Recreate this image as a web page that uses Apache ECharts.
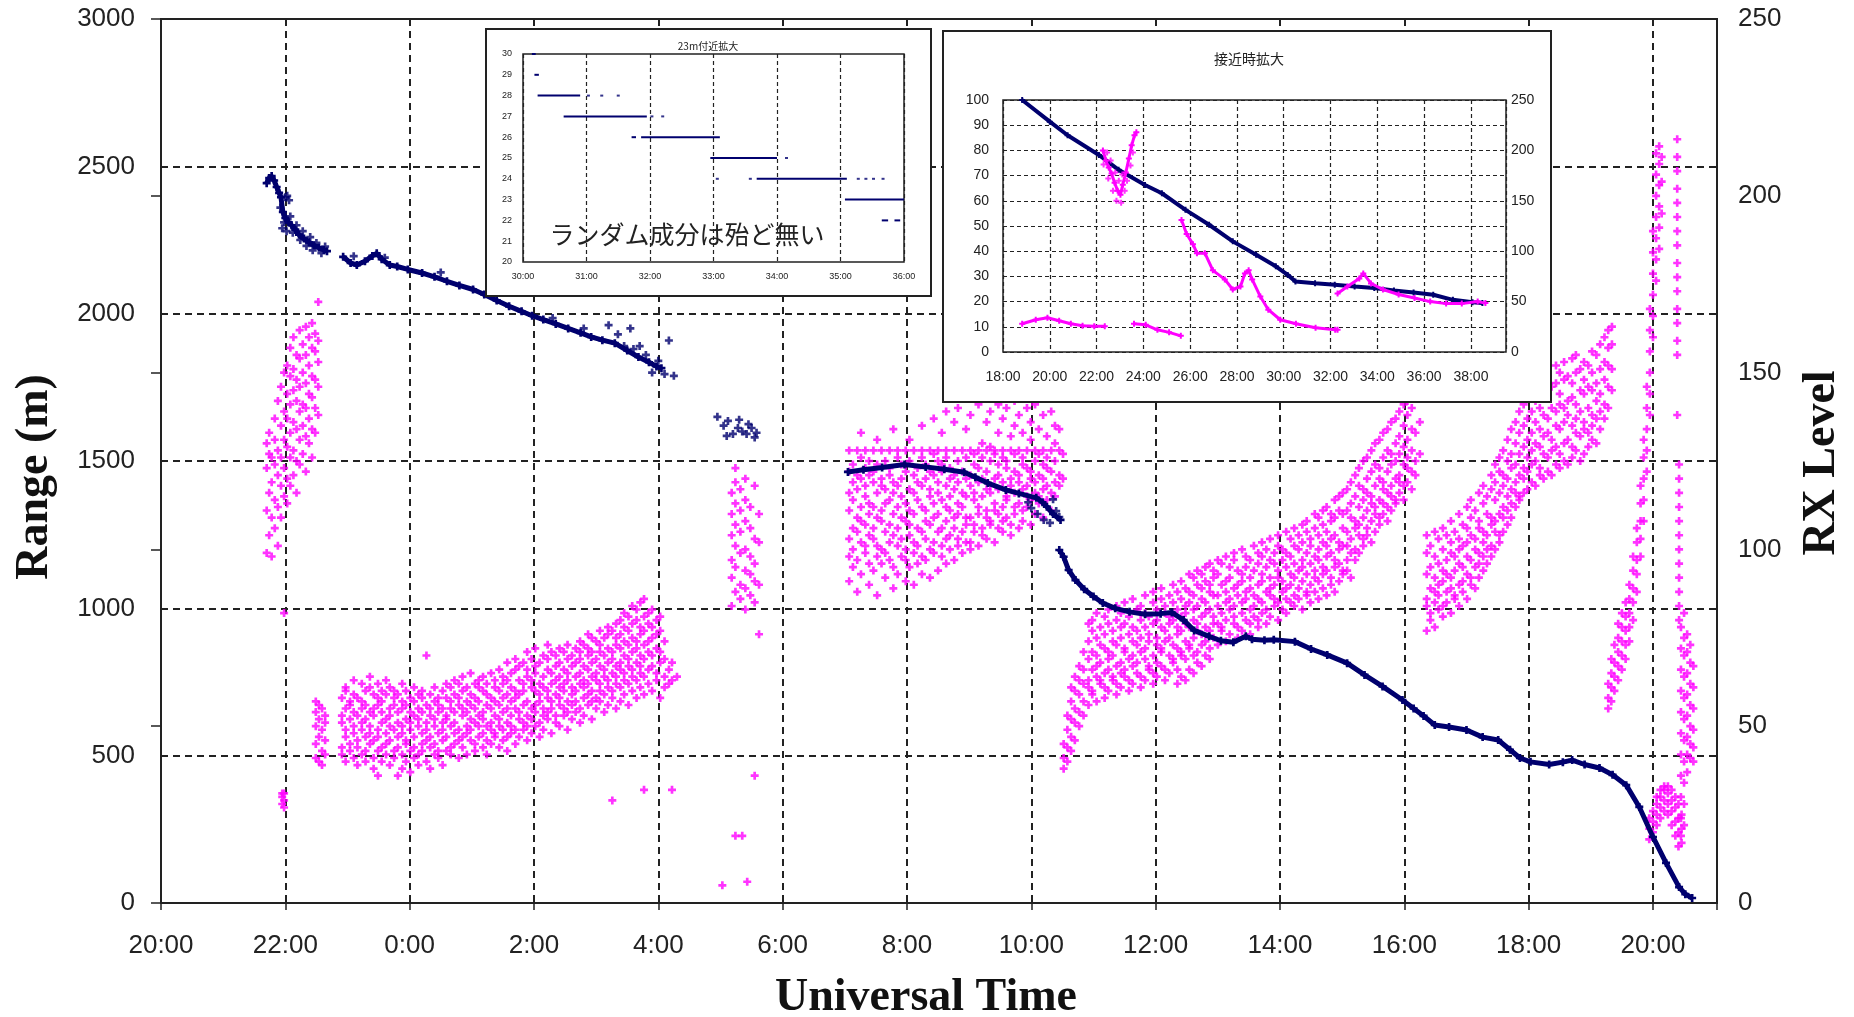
<!DOCTYPE html>
<html>
<head>
<meta charset="utf-8">
<script src="https://cdn.jsdelivr.net/npm/echarts@6/dist/echarts.min.js"></script>
<style>
  html, body { margin: 0; padding: 0; background: #fff; }
  #main { width: 1854px; height: 1017px; }
</style>
</head>
<body>
<div id="main"></div>
<script>
// hours counted from 20:00 UT on the first day
// ---- range (m), dark blue ----
const rangeSeg1 = [[1.70,2443],[1.74,2460],[1.78,2467],[1.82,2452],[1.86,2430],[1.90,2410],[1.93,2395],[1.96,2345],[2.00,2325],[2.05,2310],[2.10,2300],[2.16,2285],[2.22,2268],[2.30,2255],[2.38,2242],[2.46,2232],[2.54,2224],[2.62,2216],[2.67,2212]];
const rangeSeg2 = [[2.93,2193],[3.05,2172],[3.15,2165],[3.28,2178],[3.40,2196],[3.47,2205],[3.55,2185],[3.68,2165],[3.80,2160],[3.97,2150],[4.20,2138],[4.40,2125],[4.60,2110],[4.80,2096],[5.02,2082],[5.20,2065],[5.40,2045],[5.60,2025],[5.80,2008],[5.97,1993],[6.15,1980],[6.35,1965],[6.55,1950],[6.75,1935],[6.92,1921],[7.10,1910],[7.30,1900],[7.50,1875],[7.68,1853],[7.85,1835],[7.97,1821],[8.05,1815]];
const rangeSeg4 = [[11.05,1463],[11.30,1470],[11.60,1478],[11.96,1488],[12.30,1480],[12.60,1472],[12.92,1462],[13.10,1445],[13.30,1425],[13.59,1402],[13.80,1390],[14.08,1375],[14.18,1360],[14.25,1345],[14.35,1320],[14.47,1300]];
const rangeSeg5 = [[14.45,1198],[14.52,1175],[14.60,1130],[14.71,1096],[14.85,1065],[15.00,1040],[15.15,1018],[15.35,1000],[15.58,988],[15.83,980],[16.08,982],[16.26,986],[16.45,960],[16.62,925],[16.86,905],[17.05,890],[17.25,885],[17.45,905],[17.55,895],[17.75,892],[17.90,893],[18.24,887],[18.50,862],[18.76,842],[19.08,814],[19.36,774],[19.65,735],[19.97,689],[20.15,660],[20.31,635],[20.49,604],[20.72,597],[21.00,587],[21.26,563],[21.51,553],[21.70,520],[21.86,492],[22.03,479],[22.33,470],[22.55,478],[22.70,485],[22.90,470],[23.14,458],[23.35,435],[23.57,400],[23.78,326],[24.00,224],[24.21,136],[24.42,54],[24.52,30],[24.63,17]];
const rangeLoose = [[1.92,2360],[1.95,2290],[1.98,2310],[2.00,2395],[2.03,2400],[2.06,2385],[2.02,2280],[2.08,2330],[2.12,2275],[2.18,2300],[2.24,2250],[2.28,2280],[2.34,2230],[2.40,2260],[2.44,2215],[2.50,2240],[2.58,2205],[2.64,2228],
  [3.10,2195],[3.60,2190],[4.50,2140],[5.30,2070],[6.30,1985],[6.80,1950],[7.20,1961],[7.35,1930],[7.45,1890],[7.55,1950],[7.60,1880],[7.70,1890],[7.80,1860],[7.90,1800],[8.00,1840],[8.10,1795],[8.17,1909],[8.25,1789],
  [8.95,1650],[9.05,1620],[9.10,1585],[9.12,1636],[9.20,1592],[9.28,1612],[9.30,1640],[9.35,1600],[9.42,1592],[9.45,1625],[9.50,1612],[9.55,1580],[9.58,1596],
  [13.95,1360],[14.00,1340],[14.10,1320],[14.20,1300],[14.30,1290],[14.35,1370],[14.40,1330],[14.45,1310]];

// ---- RX level, magenta: [hour, level, level, ...] ----
const rxNear22 = [[1.70,99,111,123,130],[1.74,104,116,127,133],[1.78,98,109,119,126],[1.83,106,114,124,131,137],[1.88,101,112,121,128,142],[1.93,109,118,126,135,146],[1.98,82,115,123,131,139,150],[2.03,113,120,129,137,144,152],[2.08,118,126,133,141,149,157],[2.13,121,128,136,145,151,160],[2.18,116,125,134,142,148,155],[2.23,124,131,139,146,154,162],[2.28,127,135,141,150,158],[2.33,122,132,140,147,155,163],[2.38,130,137,144,152,160],[2.43,126,134,143,149,157,164],[2.48,133,140,148,156,161],[2.53,138,146,153,159,170]];
const rxBlob = [[1.95,28,30,31],[1.98,27,29,31]];
const rxNear23 = [[2.49,41,45,50,54,57],[2.54,40,47,52,56],[2.59,39,43,49,55],[2.64,42,46,51,53]];
const rxNight = [[2.91,42,44,51,53,58],[2.97,40,47,49,55,60,61],[3.04,43,45,52,56,57],[3.10,41,48,50,54,59,63],[3.16,39,44,46,53,58],[3.23,42,49,51,55,57,62],[3.29,40,43,47,52,56,60],[3.36,45,48,50,54,61,64],[3.42,38,41,46,53,55,59],[3.49,36,43,47,49,56,58,62],[3.55,40,44,51,54,57,60],[3.62,42,45,48,52,59,63],[3.68,39,46,50,53,55,61],[3.75,41,43,49,56,58,60],[3.81,36,44,47,51,54,59],[3.88,38,42,48,50,55,57,62],[3.94,40,45,46,52,56,60],[4.01,37,43,49,51,54,58],[4.07,41,44,47,53,57,61],[4.14,39,42,50,52,55,59],[4.20,43,45,48,54,58,60],[4.27,40,46,49,51,56,70],[4.33,38,44,47,53,55,59],[4.40,42,45,50,52,57,61],[4.46,41,43,48,54,56,58],[4.53,39,46,49,51,55,60],[4.59,43,47,52,53,58,62],[4.66,42,44,50,55,57,61],[4.72,45,48,51,54,59,63],[4.79,41,46,49,56,58,62],[4.85,44,47,53,55,60,64],[4.92,42,48,50,54,57,61],[4.98,46,49,52,56,59,65],[5.05,43,45,51,55,58,62],[5.11,47,50,53,57,61,63],[5.18,44,48,52,54,60,64],[5.24,42,46,50,56,59,62],[5.31,45,49,51,55,58,65],[5.37,47,48,53,57,61,63],[5.44,44,50,52,56,60,66],[5.50,46,49,54,58,62,64],[5.57,43,47,51,55,59,63,68],[5.63,48,50,53,57,61,65],[5.70,45,49,55,58,60,66,69],[5.76,47,52,54,59,63,67],[5.83,49,51,56,60,62,68],[5.89,46,50,53,57,64,66,71],[5.96,48,52,55,61,63,69],[6.02,50,54,56,60,65,67,72],[6.09,47,51,57,59,62,68],[6.15,49,53,55,61,64,70],[6.22,52,54,58,60,66,69,73],[6.28,48,55,57,62,65,71],[6.35,51,53,59,63,67,70],[6.41,50,56,58,61,64,68,72],[6.48,53,55,60,62,66,71],[6.54,49,54,57,63,65,69,73],[6.61,52,56,59,61,67,70],[6.67,54,57,60,64,68,72],[6.74,51,55,62,65,69,71,74],[6.80,53,58,61,63,67,73],[6.87,56,59,62,66,70,72,76],[6.93,52,57,60,64,68,71,75],[7.00,55,58,63,65,69,74],[7.06,57,60,62,67,71,73,77],[7.13,54,59,64,66,70,75],[7.19,56,61,63,68,72,76,78],[7.26,29,58,60,65,69,71,77],[7.32,55,62,64,67,73,75,79],[7.39,57,61,66,68,72,76,80],[7.45,59,63,65,70,74,78,82],[7.52,56,62,67,69,73,77,81],[7.58,60,64,66,71,75,79,84],[7.65,58,63,68,72,74,80,83],[7.71,61,65,67,70,76,78,85],[7.77,32,59,64,69,73,77,81,86],[7.84,62,66,71,74,79,82],[7.90,60,67,70,75,78,83],[7.97,63,65,72,76,80],[8.03,58,68,71,77,81],[8.10,61,64,69,74],[8.17,62,66],[8.22,32,63,68],[8.30,64]];
const rxNear05 = [[9.03,5],[9.18,84,92,97,104,110,116],[9.24,19,88,95,101,107,113,119,123],[9.32,86,90,99,105,111,117],[9.35,19],[9.40,83,89,94,100,108,114,120],[9.43,6],[9.48,87,93,98,106,112],[9.55,36,85,91,96,103,118],[9.62,76,90,102,110]];
const rxMorning = [[11.07,91,98,103,111,116,122,128],[11.13,95,100,106,114,119,124],[11.20,88,97,105,109,117,121,128],[11.26,93,102,108,112,120,126,133],[11.33,99,101,107,115,118,123,128],[11.39,90,96,104,110,113,121,125],[11.46,94,103,106,112,119,122,128],[11.52,87,98,101,109,116,124,131],[11.59,96,100,108,111,118,120,128],[11.65,92,99,105,113,117,125],[11.72,97,102,107,114,121,123,128],[11.78,89,95,104,110,116,119,134],[11.85,93,101,106,112,118,126,128],[11.91,98,103,109,115,120,124],[11.98,91,97,100,108,113,122,128],[12.04,95,104,107,111,117,125,131],[12.11,90,99,102,110,116,121,128],[12.17,96,101,106,114,119,123],[12.24,93,98,105,112,118,126,128,135],[12.30,97,103,108,111,120,124],[12.37,92,100,107,115,117,122,128],[12.43,99,102,109,113,121,127,137],[12.50,94,105,110,116,119,125,128],[12.56,98,101,106,114,122,124,133],[12.63,96,103,108,112,118,126,128,139],[12.69,100,104,111,115,120,123],[12.76,97,106,109,117,121,128,136],[12.82,101,103,110,113,119,125,140],[12.89,99,105,112,116,122,128],[12.95,102,107,109,115,120,126,134],
  [13.02,100,102,109,118,121,128,138],[13.08,105,107,114,116,124,127],[13.15,101,110,112,119,123,128,141],[13.21,104,106,115,120,126,130],[13.28,103,109,111,117,122,128,136],[13.34,107,108,116,118,125,129,139],[13.41,102,111,113,120,127,128],[13.47,106,110,117,121,124,133,141],[13.54,105,108,112,119,126,128,137],[13.60,109,114,115,123,125,140],[13.67,104,107,118,120,128,132],[13.73,110,112,116,122,127,135,142],[13.80,106,113,119,121,128,138],[13.86,108,111,117,124,126,133],[13.93,112,115,118,123,128,140],[13.99,107,114,120,122,131,136],[14.06,110,116,119,125,128,141],[14.12,113,115,121,127,134],[14.19,109,117,120,124,128,138],[14.25,114,118,123,126,132],[14.32,111,116,122,128,139],[14.38,115,119,125,130,135],[14.45,118,121,128,134],[14.51,120,127]];
const rxAfternoon = [[14.52,38,41,45],[14.58,40,44,49,53],[14.64,43,47,52,57,61],[14.70,46,51,55,60,64],[14.77,50,54,59,63,67],[14.84,53,57,62,66,71],
  [14.92,56,61,63,69,74,79],[14.98,59,60,66,71,77,80],[15.05,57,64,67,70,75,82],[15.11,62,63,68,73,78],[15.18,58,61,65,72,76,81],[15.24,60,66,69,71,79,83],[15.31,63,64,70,74,77],[15.37,59,62,67,73,80,84],[15.44,61,65,68,75,78,82],[15.50,64,66,71,72,79,85],[15.57,60,63,69,76,81],[15.63,62,67,70,74,78,86],[15.70,65,68,73,77,83],[15.76,61,64,71,75,80,84],[15.83,63,69,72,78,82,87],[15.89,66,67,74,76,81],[15.96,62,65,70,79,85,88],[16.02,64,68,73,75,80,83],[16.09,67,71,72,78,86,89],[16.15,63,66,74,77,82,84],[16.22,65,70,75,79,81,87],[16.28,68,69,73,80,85,90],[16.35,62,66,72,76,78,83,88],[16.41,64,70,71,77,81,86,91],[16.48,63,69,74,79,82,84,89],[16.54,66,72,73,78,85,88,93],[16.61,65,70,75,80,83,87,92],[16.67,68,71,77,79,84,90,94],[16.74,67,73,76,81,86,89,93],[16.80,70,74,78,82,85,91,95],[16.87,69,72,77,83,88,90,96],[16.93,75,79,81,87,92,94],
  [17.00,73,79,84,87,93,97],[17.06,77,78,82,90,96],[17.13,74,80,85,88,91,98],[17.19,76,83,86,92,95],[17.26,79,81,84,89,97,99],[17.32,75,78,87,90,94],[17.39,77,82,85,91,93,100],[17.45,80,86,88,95,98],[17.52,76,79,83,89,92,97],[17.58,81,84,87,94,101],[17.65,78,80,86,90,96,99],[17.71,82,85,91,93,98,102],[17.78,79,83,88,95,100],[17.84,81,87,89,92,97,103],[17.91,84,86,90,96,99],[17.97,80,85,92,94,101,104],[18.04,83,88,91,97,100],[18.10,82,86,89,95,99,105],[18.17,85,90,93,98,103],[18.23,84,87,92,96,101,106],[18.30,86,89,94,100,104],[18.36,83,91,95,97,102,107],[18.43,87,88,93,99,105,108],[18.49,85,90,96,101,103],[18.56,88,92,94,98,106,110],[18.62,86,91,97,100,104,109],[18.69,89,93,95,102,107,111],[18.75,87,94,98,101,105,112],[18.82,90,92,99,103,108,110],[18.88,88,95,97,104,109,114],[18.95,91,96,100,102,111,115],[19.01,93,94,101,106,110,116],
  [19.08,94,97,101,105,111,117],[19.14,92,99,103,109,113,119],[19.21,97,100,106,108,115,121],[19.27,99,104,107,112,118,123],[19.34,101,103,109,114,117,125],[19.40,104,106,111,116,120,126],[19.47,102,108,113,115,122,128],[19.53,105,110,112,118,124,130],[19.60,107,109,114,120,123,131],[19.66,110,113,117,119,126,133],[19.73,108,112,116,122,128,134],[19.79,111,115,118,124,127,136],[19.86,113,114,120,125,130,137],[19.92,116,119,121,127,132,139],[19.99,114,118,124,129,135,141],[20.05,119,123,126,131,138,142],[20.12,117,122,128,134,140],[20.18,121,125,133,143],[20.25,127,136]];
const rxEvening = [[20.36,77,84,86,93,99,104],[20.42,80,82,89,95,101],[20.49,78,85,88,92,98,105],[20.55,83,87,90,96,103],[20.62,81,84,91,94,100,106],[20.68,85,88,93,97,104],[20.75,82,89,92,99,102,108],[20.81,86,87,94,98,105],[20.88,84,90,96,100,103,110],[20.94,88,91,95,101,107],[21.01,86,93,98,102,106,112],[21.07,90,92,97,104,109,114],[21.14,89,95,100,103,111],[21.20,92,96,99,106,108,116],[21.27,94,98,102,105,113,118],[21.33,96,100,104,110,115],[21.40,98,101,107,109,117,121],[21.46,100,105,108,114,119,124],[21.53,102,104,110,116,122,126],[21.59,105,109,112,118,121,128],[21.66,107,111,115,120,125,131],[21.72,109,113,117,123,127,134],[21.79,112,116,119,124,130,136],[21.85,114,115,121,127,133,139],[21.92,116,120,123,129,135,141],[21.98,117,122,126,131,137,144],[22.05,119,124,128,133,139,146],[22.11,118,125,130,136,142,148],[22.18,121,123,129,134,140,149],[22.24,120,127,132,138,145,150],[22.31,122,126,133,137,143,151],[22.37,121,128,131,140,146],[22.44,124,129,135,139,147,152],[22.50,123,127,134,141,144,150],[22.57,125,130,136,140,148,153],[22.63,124,131,138,142,149],[22.70,126,129,135,143,147,154],[22.76,128,133,137,141,150,155],[22.83,125,132,139,145,151],[22.89,127,134,136,144,148,153],[22.96,129,133,140,146,152],[23.02,131,135,138,145,150,156],[23.09,130,137,142,147,155],[23.15,134,139,144,151,158],[23.22,137,141,148,153,160],[23.28,140,146,152,157,162],[23.34,145,151,158,163]];
const rxApproach = [[23.28,55,58,62],[23.33,57,61,65,69],[23.38,60,64,68,73],[23.44,63,67,71,75,79],[23.50,66,70,74,78,82],[23.56,69,73,77,81,85],[23.62,74,78,82,86,90],[23.68,80,85,89,94,98],[23.74,88,93,97,102,106],[23.80,98,103,108,113,118],[23.85,108,114,120,126,131],[23.90,122,128,134,140,146],[23.95,138,144,150,156,162,168],[24.00,160,166,172,178,184,190],[24.05,176,182,188,194,200,206,212],[24.10,185,191,197,203,209,214],[24.14,195,204,211]];
const rxLowHump = [[23.94,18,21,24],[24.00,20,23,26],[24.06,22,25,28,30],[24.12,24,27,30,32],[24.18,26,29,32,33],[24.24,25,28,31,33],[24.30,22,26,29,32],[24.36,19,23,27,30],[24.41,16,20,24,28],[24.46,17,21,25]];
const rxLast = [[24.39,216,211,207,202,198,194,190,186,181,177,173,168,164,159,155,138],[24.42,124,120,116,112,108,104,100,96,92,88,84,80],[24.45,78,72,66,60,54,48,42,36,30,24,19],[24.50,82,75,70,64,58,52,46,40,34,28,22],[24.55,76,71,65,59,53,47,42,37],[24.60,73,68,62,56,50,45,41],[24.65,67,61,55,49,44,40]];

// ---- inset 1: range around 23 m ----
const zoomSteps = [[30,30.14,30.20],[29,30.18,30.25],[28,30.23,30.90],[27,30.64,31.95],[26,31.71,31.78],[26,31.86,33.10],[25,32.95,34.00],[24,33.68,35.10],[23,35.07,36.00],[22,35.65,35.75],[22,35.85,35.94]];
const zoomDots = [[31.03,28],[31.24,28],[31.50,28],[32.03,27],[32.20,27],[34.15,25],[33.06,24],[33.58,24],[35.28,24],[35.40,24],[35.52,24],[35.67,24]];

// ---- inset 2: closest approach ----
const nearRange = [[18.82,100],[20.0,91.4],[20.76,86],[22.1,78.2],[22.94,72.3],[24.07,66.3],[24.79,63],[25.8,56.4],[26.81,50.5],[27.82,43.9],[28.82,38.6],[29.66,34],[30.17,30.6],[30.5,28],[31.34,27.3],[32.18,26.7],[33.03,26],[33.87,25.4],[34.71,24.4],[35.55,23.6],[36.39,22.7],[37.23,20.7],[38.07,19.7],[38.49,19.4]];
const nearRx = [
  [[18.82,28],[19.4,32],[19.9,34],[20.4,31],[20.9,28],[21.4,26],[21.9,25.5],[22.35,25.5]],
  [[22.27,200],[22.4,190],[22.52,183],[22.64,177],[22.77,168],[22.9,160],[23.02,156],[23.12,166],[23.25,178],[23.38,192],[23.5,205],[23.62,215],[23.7,218]],
  [[23.6,28],[24.1,27],[24.6,22],[25.1,19.5],[25.6,16]],
  [[25.63,131],[25.85,117],[26.12,107],[26.29,98],[26.63,98],[26.97,81],[27.48,72],[27.82,62],[28.15,65],[28.34,78],[28.5,81],[28.65,72],[29.0,55],[29.34,42],[29.85,32],[30.52,28],[31.36,24],[32.2,22],[32.3,22]],
  [[32.3,58],[32.72,65],[33.23,73],[33.4,78],[33.73,68],[34.24,62],[34.91,57],[35.59,53.5],[36.26,50],[36.94,48],[37.61,48],[38.29,50],[38.62,48.5]]
];
const nearRxSpread = [[22.3,186],[22.45,198],[22.5,172],[22.6,190],[22.7,160],[22.8,178],[22.85,150],[22.95,170],[23.05,148],[23.1,176],[23.2,160],[23.3,170],[23.45,185],[23.55,198]];

const NAVY = '#00006e';
const PINK = '#ff00ff';
const INK = '#222';
const PLUS = 'path://M2,0L4,0L4,2L6,2L6,4L4,4L4,6L2,6L2,4L0,4L0,2L2,2Z';

function cloud(cols) {
  const pts = [];
  cols.forEach(function (c) {
    for (let i = 1; i < c.length; i++) pts.push([c[0], c[i]]);
  });
  return pts;
}

const chart = echarts.init(document.getElementById('main'));

const dashed = { color: INK, width: 2, type: [7, 5] };
const smallDash = { color: INK, width: 1.2, type: [4, 3] };
const tickFont = { fontFamily: 'Liberation Sans', fontSize: 26, color: INK };
const plain = function (v) { return String(v); };

const rxPoints = [].concat(
  cloud(rxNear22), cloud(rxBlob), cloud(rxNear23), cloud(rxNight), cloud(rxNear05),
  cloud(rxMorning), cloud(rxAfternoon), cloud(rxEvening), cloud(rxApproach),
  cloud(rxLowHump), cloud(rxLast)
);

const series = [];
series.push({
  type: 'scatter', xAxisIndex: 0, yAxisIndex: 1, data: rxPoints,
  symbol: PLUS, symbolSize: 8, itemStyle: { color: PINK }, z: 2, progressive: 0
});
[rangeSeg1, rangeSeg2, rangeSeg4, rangeSeg5].forEach(function (seg) {
  series.push({
    type: 'line', xAxisIndex: 0, yAxisIndex: 0, data: seg,
    symbol: PLUS, symbolSize: 8, showSymbol: true,
    lineStyle: { color: NAVY, width: 5 }, itemStyle: { color: NAVY }, z: 3
  });
});
series.push({
  type: 'scatter', xAxisIndex: 0, yAxisIndex: 0, data: rangeLoose,
  symbol: PLUS, symbolSize: 8, itemStyle: { color: NAVY }, z: 3
});
// inset 1
zoomSteps.forEach(function (s) {
  series.push({
    type: 'line', xAxisIndex: 2, yAxisIndex: 2, data: [[s[1], s[0]], [s[2], s[0]]],
    symbol: 'none', lineStyle: { color: NAVY, width: 2 }, z: 8
  });
});
series.push({
  type: 'scatter', xAxisIndex: 2, yAxisIndex: 2, data: zoomDots,
  symbol: 'rect', symbolSize: [3, 2], itemStyle: { color: NAVY }, z: 8
});
// inset 2
series.push({
  type: 'line', xAxisIndex: 3, yAxisIndex: 3, data: nearRange,
  symbol: PLUS, symbolSize: 6, lineStyle: { color: NAVY, width: 4 }, itemStyle: { color: NAVY }, z: 8
});
nearRx.forEach(function (seg) {
  series.push({
    type: 'line', xAxisIndex: 3, yAxisIndex: 4, data: seg,
    symbol: PLUS, symbolSize: 6, lineStyle: { color: PINK, width: 3 }, itemStyle: { color: PINK }, z: 9
  });
});
series.push({
  type: 'scatter', xAxisIndex: 3, yAxisIndex: 4, data: nearRxSpread,
  symbol: PLUS, symbolSize: 6, itemStyle: { color: PINK }, z: 9
});

const option = {
  animation: false,
  backgroundColor: '#fff',
  grid: [
    { left: 161, top: 19, width: 1556, height: 884, show: true, borderColor: INK, borderWidth: 2, outerBoundsMode: 'none' },
    { left: 523, top: 54, width: 381, height: 208, show: true, borderColor: INK, borderWidth: 1.5, z: 6, outerBoundsMode: 'none' },
    { left: 1003, top: 100, width: 503, height: 252, show: true, borderColor: INK, borderWidth: 1.5, z: 6, outerBoundsMode: 'none' }
  ],
  xAxis: [
    {
      gridIndex: 0, type: 'value', min: 0, max: 25.03, interval: 2,
      axisLine: { lineStyle: { color: INK, width: 2 } }, axisTick: { show: false },
      axisLabel: Object.assign({ margin: 30, formatter: function (v) { return Number.isInteger(v) ? ((20 + v) % 24) + ':00' : ''; } }, tickFont),
      splitLine: { show: true, lineStyle: dashed }
    },
    {
      gridIndex: 0, type: 'value', position: 'top', min: 0, max: 25.03, interval: 2,
      axisLine: { show: false }, axisLabel: { show: false }, splitLine: { show: false },
      axisTick: { show: true, inside: true, length: 7, lineStyle: { color: INK, width: 1.5 } }
    },
    {
      gridIndex: 1, type: 'value', min: 30, max: 36, interval: 1, z: 6,
      axisLine: { show: false }, axisTick: { show: false },
      axisLabel: { margin: 10, fontFamily: 'Liberation Sans', fontSize: 9, color: INK, formatter: function (v) { return v + ':00'; } },
      splitLine: { show: true, lineStyle: smallDash }
    },
    {
      gridIndex: 2, type: 'value', min: 18, max: 39.5, interval: 2, z: 6,
      axisLine: { show: false }, axisTick: { show: false },
      axisLabel: { margin: 18, fontFamily: 'Liberation Sans', fontSize: 14, color: INK, formatter: function (v) { return Number.isInteger(v) ? v + ':00' : ''; } },
      splitLine: { show: true, lineStyle: smallDash }
    }
  ],
  yAxis: [
    {
      gridIndex: 0, type: 'value', min: 0, max: 3000, interval: 500,
      axisLine: { show: true, lineStyle: { color: INK, width: 2 } }, axisTick: { show: false },
      axisLabel: Object.assign({ margin: 26, formatter: plain }, tickFont),
      splitLine: { show: true, lineStyle: dashed }
    },
    {
      gridIndex: 0, type: 'value', position: 'right', min: 0, max: 250, interval: 50,
      axisLine: { show: false },
      axisTick: { show: true, inside: true, length: 10, lineStyle: { color: INK, width: 1.5 } },
      axisLabel: Object.assign({ margin: 21, formatter: plain }, tickFont),
      splitLine: { show: false }
    },
    {
      gridIndex: 1, type: 'value', min: 20, max: 30, interval: 1, z: 6,
      axisLine: { show: false }, axisTick: { show: false },
      axisLabel: { margin: 11, fontFamily: 'Liberation Sans', fontSize: 9, color: INK },
      splitLine: { show: false }
    },
    {
      gridIndex: 2, type: 'value', min: 0, max: 100, interval: 10, z: 6,
      axisLine: { show: false }, axisTick: { show: false },
      axisLabel: { margin: 14, fontFamily: 'Liberation Sans', fontSize: 14, color: INK },
      splitLine: { show: true, lineStyle: smallDash }
    },
    {
      gridIndex: 2, type: 'value', position: 'right', min: 0, max: 250, interval: 50, z: 6,
      axisLine: { show: false }, axisTick: { show: false },
      axisLabel: { margin: 5, fontFamily: 'Liberation Sans', fontSize: 14, color: INK },
      splitLine: { show: false }
    }
  ],
  graphic: [
    { type: 'rect', z: 5, shape: { x: 486, y: 29, width: 445, height: 267 }, style: { fill: '#fff', stroke: INK, lineWidth: 2 } },
    { type: 'rect', z: 5, shape: { x: 943, y: 31, width: 608, height: 371 }, style: { fill: '#fff', stroke: INK, lineWidth: 2 } },
    { type: 'text', z: 10, x: 708, y: 46, style: { text: '23m付近拡大', fontFamily: 'Noto Sans CJK JP', fontSize: 10, fill: INK, textAlign: 'center', textVerticalAlign: 'middle' } },
    { type: 'text', z: 10, x: 1249, y: 59, style: { text: '接近時拡大', fontFamily: 'Noto Sans CJK JP', fontSize: 14, fill: INK, textAlign: 'center', textVerticalAlign: 'middle' } },
    { type: 'text', z: 10, x: 687, y: 234, style: { text: 'ランダム成分は殆ど無い', fontFamily: 'Noto Sans CJK JP', fontSize: 25, fill: INK, textAlign: 'center', textVerticalAlign: 'middle' } },
    { type: 'text', z: 10, x: 35, y: 477, rotation: Math.PI / 2, style: { text: 'Range (m)', fontFamily: 'Liberation Serif', fontWeight: 'bold', fontSize: 46, fill: '#111', textAlign: 'center', textVerticalAlign: 'middle' } },
    { type: 'text', z: 10, x: 1822, y: 463, rotation: Math.PI / 2, style: { text: 'RX Level', fontFamily: 'Liberation Serif', fontWeight: 'bold', fontSize: 46, fill: '#111', textAlign: 'center', textVerticalAlign: 'middle' } },
    { type: 'text', z: 10, x: 926, y: 998, style: { text: 'Universal Time', fontFamily: 'Liberation Serif', fontWeight: 'bold', fontSize: 46, fill: '#111', textAlign: 'center', textVerticalAlign: 'middle' } }
  ],
  series: series
};

chart.setOption(option);
</script>
</body>
</html>
